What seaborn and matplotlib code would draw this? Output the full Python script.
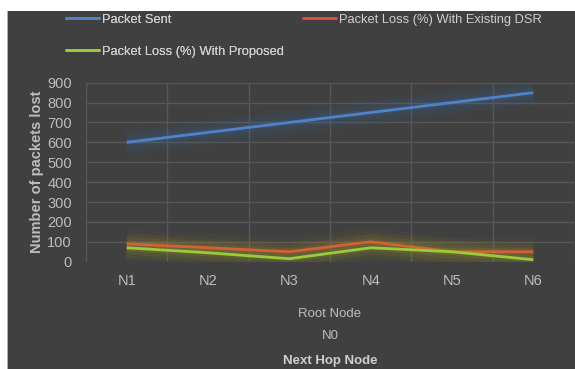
import matplotlib
matplotlib.use("Agg")
import matplotlib.pyplot as plt
import matplotlib.patheffects as pe
from matplotlib.patches import Rectangle
import pandas as pd
import seaborn as sns

# Series values per next-hop node
nodes = ["N1", "N2", "N3", "N4", "N5", "N6"]
packet_sent = [600, 650, 700, 750, 800, 850]
loss_existing = [90, 70, 50, 100, 50, 50]
loss_proposed = [70, 45, 15, 70, 50, 10]
series_names = ["Packet Sent",
                "Packet Loss (%) With Existing DSR",
                "Packet Loss (%) With Proposed"]
y_ticks = [0, 100, 200, 300, 400, 500, 600, 700, 800, 900]

colors = {series_names[0]: "#4f83c9",
          series_names[1]: "#e2553b",
          series_names[2]: "#9acb3c"}
glow = {series_names[0]: "#3a6fb0",
        series_names[1]: "#b0862a",
        series_names[2]: "#98a02a"}

df = pd.DataFrame({
    "node": nodes * 3,
    "value": packet_sent + loss_existing + loss_proposed,
    "series": [series_names[0]] * 6 + [series_names[1]] * 6 + [series_names[2]] * 6,
})

sns.set_theme(style="dark")
family = ["Liberation Sans", "DejaVu Sans"]
plt.rcParams["font.family"] = family

W, H = 575, 369
PX = 72 / 100  # points per pixel at dpi 100
fig = plt.figure(figsize=(W / 100, H / 100), dpi=100)
fig.patch.set_facecolor("white")
# dark chart panel with a thin light border on its left
fig.add_artist(Rectangle((8 / W, 0), 1 - 8 / W, 1 - 11 / H,
                         transform=fig.transFigure, facecolor="#404040",
                         edgecolor="none", zorder=0))
fig.add_artist(Rectangle((7 / W, 0), 1 / W, 1 - 11 / H,
                         transform=fig.transFigure, facecolor="#b0b0b0",
                         edgecolor="none", zorder=0))

left, right = 86 / W, 574 / W
top, bottom = 1 - 82.7 / H, 1 - 261.7 / H
ax = fig.add_axes([left, bottom, right - left, top - bottom])
ax.set_facecolor("none")

sns.lineplot(data=df, x="node", y="value", hue="series",
             hue_order=series_names, palette=colors, linewidth=2,
             sort=False, ax=ax, legend=False, zorder=5)

for line, name in zip(ax.get_lines(), series_names):
    line.set_path_effects([
        pe.Stroke(linewidth=20, foreground=glow[name], alpha=0.05),
        pe.Stroke(linewidth=15, foreground=glow[name], alpha=0.06),
        pe.Stroke(linewidth=10, foreground=glow[name], alpha=0.08),
        pe.Stroke(linewidth=5, foreground=glow[name], alpha=0.12),
        pe.Normal(),
    ])
    line.set_solid_capstyle("butt")

ax.set_xlim(-0.5, 5.5)
ax.set_ylim(0, 900)
ax.set_yticks(y_ticks)
ax.set_xticks(range(len(nodes)))
ax.set_xticklabels(nodes)

# category boundaries and value gridlines
for xb in [i - 0.5 for i in range(len(nodes) + 1)]:
    ax.axvline(xb, color="#575757", linewidth=1, zorder=1)
for yv in y_ticks[1:]:
    ax.axhline(yv, color="#575757", linewidth=1, zorder=1)
ax.grid(False)
for s in ax.spines.values():
    s.set_visible(False)

tick_color = "#bdbdbd"
ax.tick_params(axis="both", length=0, colors=tick_color, labelsize=10.5)
ax.tick_params(axis="y", pad=14 * PX)
ax.tick_params(axis="x", pad=12 * PX)

ax.set_xlabel("")
ax.set_ylabel("Number of packets lost", color=tick_color, fontsize=10.5,
              fontweight="bold", labelpad=3 * PX)

fig.text(330 / W, 1 - 314 / H, "Root Node", ha="center", va="center",
         color=tick_color, fontsize=9.5)
fig.text(330 / W, 1 - 336 / H, "N0", ha="center", va="center",
         color=tick_color, fontsize=9.5)
fig.text(330 / W, 1 - 361 / H, "Next Hop Node", ha="center", va="center",
         color="#cfcfcf", fontsize=9.5, fontweight="bold")

handles = {name: plt.Line2D([], [], color=colors[name], linewidth=2)
           for name in series_names}
leg_fs = 9.3
leg_kw = dict(loc="upper left", frameon=False, fontsize=leg_fs,
              handlelength=33 * PX / leg_fs, handletextpad=0.2,
              labelspacing=20 * PX / leg_fs, borderpad=0, borderaxespad=0,
              labelcolor="#cfcfcf")
col1 = [series_names[0], series_names[2]]
leg1 = fig.legend([handles[n] for n in col1], col1,
                  bbox_to_anchor=(66 / W, 1 - 13.5 / H), **leg_kw)
fig.add_artist(leg1)
col2 = [series_names[1]]
fig.legend([handles[n] for n in col2], col2,
           bbox_to_anchor=(303 / W, 1 - 13.5 / H), **leg_kw)

fig.savefig("out.png", dpi=100, facecolor=fig.get_facecolor())
